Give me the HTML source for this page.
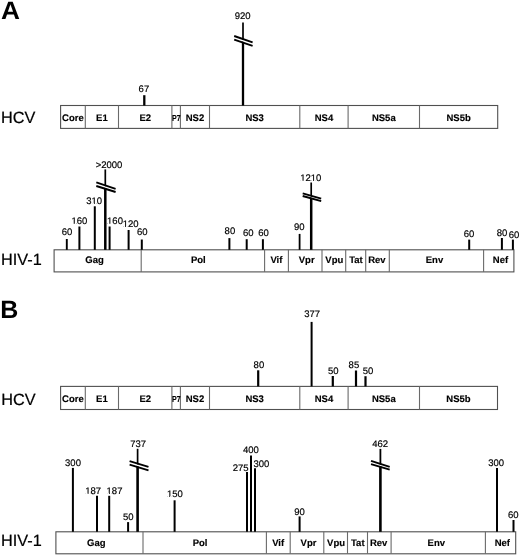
<!DOCTYPE html>
<html><head><meta charset="utf-8"><style>
html,body{margin:0;padding:0;background:#fff;}
body{width:520px;height:556px;overflow:hidden;}
svg{display:block;will-change:transform;}
text{font-family:"Liberation Sans",sans-serif;fill:#000;text-rendering:geometricPrecision;}
.n{font-size:9.5px;stroke:#000;stroke-width:0.18px;}
.b{font-size:9.5px;font-weight:bold;stroke:#000;stroke-width:0.15px;}
.h{font-size:16.3px;stroke:#000;stroke-width:0.2px;}
.L{font-size:24px;font-weight:bold;}
</style></head><body>
<svg width="520" height="556" viewBox="0 0 520 556">
<rect width="520" height="556" fill="#fff"/>
<text transform="translate(1.0,18.9) scale(1.05,1.01)" class="L" style="font-size:25px">A</text>
<text transform="translate(1.0,123.3) scale(1,1.0)" class="h">HCV</text>
<rect x="60.6" y="105.5" width="437.10" height="22.90" fill="none" stroke="#505050" stroke-width="1.1"/>
<line x1="85.3" y1="105.5" x2="85.3" y2="128.4" stroke="#6a6a6a" stroke-width="1.1"/>
<line x1="118.5" y1="105.5" x2="118.5" y2="128.4" stroke="#6a6a6a" stroke-width="1.1"/>
<line x1="171.9" y1="105.5" x2="171.9" y2="128.4" stroke="#6a6a6a" stroke-width="1.1"/>
<line x1="180.4" y1="105.5" x2="180.4" y2="128.4" stroke="#6a6a6a" stroke-width="1.1"/>
<line x1="209.5" y1="105.5" x2="209.5" y2="128.4" stroke="#6a6a6a" stroke-width="1.1"/>
<line x1="299.8" y1="105.5" x2="299.8" y2="128.4" stroke="#6a6a6a" stroke-width="1.1"/>
<line x1="348.1" y1="105.5" x2="348.1" y2="128.4" stroke="#6a6a6a" stroke-width="1.1"/>
<line x1="419.5" y1="105.5" x2="419.5" y2="128.4" stroke="#6a6a6a" stroke-width="1.1"/>
<text x="72.95" y="120.60" class="b" text-anchor="middle">Core</text>
<text x="101.90" y="120.60" class="b" text-anchor="middle">E1</text>
<text x="145.20" y="120.60" class="b" text-anchor="middle">E2</text>
<clipPath id="c1"><rect x="171.3" y="105.5" width="9.5" height="22.900000000000006"/></clipPath>
<text x="172.10" y="120.60" class="b" style="font-size:8.6px" textLength="8.6" lengthAdjust="spacingAndGlyphs" clip-path="url(#c1)">P7</text>
<text x="194.95" y="120.60" class="b" text-anchor="middle">NS2</text>
<text x="254.65" y="120.60" class="b" text-anchor="middle">NS3</text>
<text x="323.95" y="120.60" class="b" text-anchor="middle">NS4</text>
<text x="383.80" y="120.60" class="b" text-anchor="middle">NS5a</text>
<text x="458.60" y="120.60" class="b" text-anchor="middle">NS5b</text>
<line x1="144.3" y1="95.2" x2="144.3" y2="105.5" stroke="#000" stroke-width="2.3"/>
<text transform="translate(143.9,92.00)" class="n" text-anchor="middle">67</text>
<line x1="243" y1="22.5" x2="243" y2="40.8" stroke="#000" stroke-width="1.7"/>
<line x1="243" y1="40.8" x2="243" y2="105.5" stroke="#000" stroke-width="2.3"/>
<text transform="translate(242.7,19.00)" class="n" text-anchor="middle">920</text>
<polygon points="234.2,36.8 252.6,43.099999999999994 252.6,45.0 234.2,38.800000000000004" fill="#fff"/>
<line x1="234.2" y1="36" x2="252.6" y2="42.3" stroke="#000" stroke-width="1.9"/>
<line x1="234.2" y1="39.6" x2="252.6" y2="45.8" stroke="#000" stroke-width="1.9"/>
<text transform="translate(1.0,264.8) scale(1,1.0)" class="h">HIV-1</text>
<rect x="54.1" y="249.8" width="459.80" height="22.10" fill="none" stroke="#505050" stroke-width="1.1"/>
<line x1="141.2" y1="249.8" x2="141.2" y2="271.9" stroke="#6a6a6a" stroke-width="1.1"/>
<line x1="264.6" y1="249.8" x2="264.6" y2="271.9" stroke="#6a6a6a" stroke-width="1.1"/>
<line x1="288.4" y1="249.8" x2="288.4" y2="271.9" stroke="#6a6a6a" stroke-width="1.1"/>
<line x1="322.0" y1="249.8" x2="322.0" y2="271.9" stroke="#6a6a6a" stroke-width="1.1"/>
<line x1="345.7" y1="249.8" x2="345.7" y2="271.9" stroke="#6a6a6a" stroke-width="1.1"/>
<line x1="365.7" y1="249.8" x2="365.7" y2="271.9" stroke="#6a6a6a" stroke-width="1.1"/>
<line x1="389.3" y1="249.8" x2="389.3" y2="271.9" stroke="#6a6a6a" stroke-width="1.1"/>
<line x1="483.6" y1="249.8" x2="483.6" y2="271.9" stroke="#6a6a6a" stroke-width="1.1"/>
<text x="94.50" y="263.40" class="b" text-anchor="middle">Gag</text>
<text x="198.30" y="263.40" class="b" text-anchor="middle">Pol</text>
<text x="276.40" y="263.40" class="b" text-anchor="middle">Vif</text>
<text x="306.70" y="263.40" class="b" text-anchor="middle">Vpr</text>
<text x="334.30" y="263.40" class="b" text-anchor="middle">Vpu</text>
<text x="356.00" y="263.40" class="b" text-anchor="middle">Tat</text>
<text x="376.90" y="263.40" class="b" text-anchor="middle">Rev</text>
<text x="434.50" y="263.40" class="b" text-anchor="middle">Env</text>
<text x="500.50" y="263.40" class="b" text-anchor="middle">Nef</text>
<line x1="66.8" y1="239" x2="66.8" y2="249.8" stroke="#000" stroke-width="1.9"/>
<text transform="translate(67,235.00)" class="n" text-anchor="middle">60</text>
<line x1="79.4" y1="226.5" x2="79.4" y2="249.8" stroke="#000" stroke-width="2.0"/>
<text transform="translate(79.3,224.00)" class="n" text-anchor="middle">160</text>
<rect x="71.93" y="222.94" width="1.80" height="1.16" fill="#fff"/>
<rect x="74.63" y="222.94" width="1.75" height="1.16" fill="#fff"/>
<line x1="94.8" y1="206.3" x2="94.8" y2="249.8" stroke="#000" stroke-width="2.0"/>
<text transform="translate(94.2,204.00)" class="n" text-anchor="middle">310</text>
<rect x="92.11" y="202.94" width="1.80" height="1.16" fill="#fff"/>
<rect x="94.81" y="202.94" width="1.75" height="1.16" fill="#fff"/>
<line x1="105.3" y1="169.4" x2="105.3" y2="187.1" stroke="#000" stroke-width="1.7"/>
<line x1="105.3" y1="187.1" x2="105.3" y2="249.8" stroke="#000" stroke-width="2.5"/>
<text transform="translate(109.0,168.00)" class="n" text-anchor="middle">&gt;2000</text>
<line x1="109.6" y1="226.5" x2="109.6" y2="249.8" stroke="#000" stroke-width="2.0"/>
<text transform="translate(115.0,224.00)" class="n" text-anchor="middle">160</text>
<rect x="107.63" y="222.94" width="1.80" height="1.16" fill="#fff"/>
<rect x="110.33" y="222.94" width="1.75" height="1.16" fill="#fff"/>
<line x1="128.6" y1="230.0" x2="128.6" y2="249.8" stroke="#000" stroke-width="2.0"/>
<text transform="translate(130.7,227.00)" class="n" text-anchor="middle">120</text>
<rect x="123.33" y="225.94" width="1.80" height="1.16" fill="#fff"/>
<rect x="126.03" y="225.94" width="1.75" height="1.16" fill="#fff"/>
<line x1="141.8" y1="239.5" x2="141.8" y2="249.8" stroke="#000" stroke-width="2.0"/>
<text transform="translate(142.2,235.00)" class="n" text-anchor="middle">60</text>
<line x1="229.4" y1="238.1" x2="229.4" y2="249.8" stroke="#000" stroke-width="2.0"/>
<text transform="translate(229.9,234.00)" class="n" text-anchor="middle">80</text>
<line x1="246.7" y1="239.2" x2="246.7" y2="249.8" stroke="#000" stroke-width="2.0"/>
<text transform="translate(248.3,236.00)" class="n" text-anchor="middle">60</text>
<line x1="262.9" y1="239.2" x2="262.9" y2="249.8" stroke="#000" stroke-width="2.0"/>
<text transform="translate(263.5,236.00)" class="n" text-anchor="middle">60</text>
<line x1="299.6" y1="233.9" x2="299.6" y2="249.8" stroke="#000" stroke-width="1.8"/>
<text transform="translate(299.2,230.00)" class="n" text-anchor="middle">90</text>
<line x1="311.2" y1="182.5" x2="311.2" y2="197.0" stroke="#000" stroke-width="1.7"/>
<line x1="311.2" y1="197.0" x2="311.2" y2="249.8" stroke="#000" stroke-width="2.5"/>
<text transform="translate(310.8,181.00)" class="n" text-anchor="middle">1210</text>
<rect x="300.79" y="179.94" width="1.80" height="1.16" fill="#fff"/>
<rect x="303.49" y="179.94" width="1.75" height="1.16" fill="#fff"/>
<rect x="311.36" y="179.94" width="1.80" height="1.16" fill="#fff"/>
<rect x="314.06" y="179.94" width="1.75" height="1.16" fill="#fff"/>
<line x1="469.2" y1="239.6" x2="469.2" y2="249.8" stroke="#000" stroke-width="2.0"/>
<text transform="translate(469.0,237.00)" class="n" text-anchor="middle">60</text>
<line x1="501.9" y1="238.0" x2="501.9" y2="249.8" stroke="#000" stroke-width="2.0"/>
<text transform="translate(502.1,236.00)" class="n" text-anchor="middle">80</text>
<line x1="512.9" y1="239.6" x2="512.9" y2="249.8" stroke="#000" stroke-width="2.0"/>
<text transform="translate(514.0,238.00)" class="n" text-anchor="middle">60</text>
<polygon points="96.3,183.20000000000002 115.6,189.60000000000002 115.6,191.2 96.3,185.2" fill="#fff"/>
<line x1="96.3" y1="182.4" x2="115.6" y2="188.8" stroke="#000" stroke-width="1.9"/>
<line x1="96.3" y1="186" x2="115.6" y2="192" stroke="#000" stroke-width="1.9"/>
<polygon points="302.7,194.10000000000002 321.2,199.4 321.2,200.39999999999998 302.7,195.2" fill="#fff"/>
<line x1="302.7" y1="193.3" x2="321.2" y2="198.6" stroke="#000" stroke-width="1.9"/>
<line x1="302.7" y1="196" x2="321.2" y2="201.2" stroke="#000" stroke-width="1.9"/>
<text x="0.2" y="318.2" class="L" style="font-size:25px">B</text>
<text transform="translate(1.2,404.6) scale(1,1.0)" class="h">HCV</text>
<rect x="60.6" y="386.4" width="436.90" height="23.10" fill="none" stroke="#505050" stroke-width="1.1"/>
<line x1="85.3" y1="386.4" x2="85.3" y2="409.5" stroke="#6a6a6a" stroke-width="1.1"/>
<line x1="118.5" y1="386.4" x2="118.5" y2="409.5" stroke="#6a6a6a" stroke-width="1.1"/>
<line x1="171.9" y1="386.4" x2="171.9" y2="409.5" stroke="#6a6a6a" stroke-width="1.1"/>
<line x1="180.4" y1="386.4" x2="180.4" y2="409.5" stroke="#6a6a6a" stroke-width="1.1"/>
<line x1="209.5" y1="386.4" x2="209.5" y2="409.5" stroke="#6a6a6a" stroke-width="1.1"/>
<line x1="299.8" y1="386.4" x2="299.8" y2="409.5" stroke="#6a6a6a" stroke-width="1.1"/>
<line x1="348.1" y1="386.4" x2="348.1" y2="409.5" stroke="#6a6a6a" stroke-width="1.1"/>
<line x1="419.5" y1="386.4" x2="419.5" y2="409.5" stroke="#6a6a6a" stroke-width="1.1"/>
<text x="72.95" y="401.90" class="b" text-anchor="middle">Core</text>
<text x="101.90" y="401.90" class="b" text-anchor="middle">E1</text>
<text x="145.20" y="401.90" class="b" text-anchor="middle">E2</text>
<clipPath id="c2"><rect x="171.3" y="386.4" width="9.5" height="23.100000000000023"/></clipPath>
<text x="172.10" y="401.90" class="b" style="font-size:8.6px" textLength="8.6" lengthAdjust="spacingAndGlyphs" clip-path="url(#c2)">P7</text>
<text x="194.95" y="401.90" class="b" text-anchor="middle">NS2</text>
<text x="254.65" y="401.90" class="b" text-anchor="middle">NS3</text>
<text x="323.95" y="401.90" class="b" text-anchor="middle">NS4</text>
<text x="383.80" y="401.90" class="b" text-anchor="middle">NS5a</text>
<text x="458.50" y="401.90" class="b" text-anchor="middle">NS5b</text>
<line x1="258.2" y1="370.3" x2="258.2" y2="386.4" stroke="#000" stroke-width="2.2"/>
<text transform="translate(258.9,368.00)" class="n" text-anchor="middle">80</text>
<line x1="311.6" y1="321.9" x2="311.6" y2="386.4" stroke="#000" stroke-width="2.0"/>
<text transform="translate(312.1,317.00)" class="n" text-anchor="middle">377</text>
<line x1="332.8" y1="376.0" x2="332.8" y2="386.4" stroke="#000" stroke-width="2.2"/>
<text transform="translate(333.3,374.00)" class="n" text-anchor="middle">50</text>
<line x1="356.0" y1="370.5" x2="356.0" y2="386.4" stroke="#000" stroke-width="2.2"/>
<text transform="translate(353.9,368.00)" class="n" text-anchor="middle">85</text>
<line x1="365.5" y1="376.2" x2="365.5" y2="386.4" stroke="#000" stroke-width="2.2"/>
<text transform="translate(368.0,374.00)" class="n" text-anchor="middle">50</text>
<text transform="translate(1.0,545.9) scale(1,1.0)" class="h">HIV-1</text>
<rect x="55.9" y="531.8" width="459.80" height="22.00" fill="none" stroke="#505050" stroke-width="1.1"/>
<line x1="143.0" y1="531.8" x2="143.0" y2="553.8" stroke="#6a6a6a" stroke-width="1.1"/>
<line x1="266.40000000000003" y1="531.8" x2="266.40000000000003" y2="553.8" stroke="#6a6a6a" stroke-width="1.1"/>
<line x1="290.2" y1="531.8" x2="290.2" y2="553.8" stroke="#6a6a6a" stroke-width="1.1"/>
<line x1="323.8" y1="531.8" x2="323.8" y2="553.8" stroke="#6a6a6a" stroke-width="1.1"/>
<line x1="347.5" y1="531.8" x2="347.5" y2="553.8" stroke="#6a6a6a" stroke-width="1.1"/>
<line x1="367.5" y1="531.8" x2="367.5" y2="553.8" stroke="#6a6a6a" stroke-width="1.1"/>
<line x1="391.1" y1="531.8" x2="391.1" y2="553.8" stroke="#6a6a6a" stroke-width="1.1"/>
<line x1="485.40000000000003" y1="531.8" x2="485.40000000000003" y2="553.8" stroke="#6a6a6a" stroke-width="1.1"/>
<text x="96.30" y="545.70" class="b" text-anchor="middle">Gag</text>
<text x="200.10" y="545.70" class="b" text-anchor="middle">Pol</text>
<text x="278.20" y="545.70" class="b" text-anchor="middle">Vif</text>
<text x="308.50" y="545.70" class="b" text-anchor="middle">Vpr</text>
<text x="336.10" y="545.70" class="b" text-anchor="middle">Vpu</text>
<text x="357.80" y="545.70" class="b" text-anchor="middle">Tat</text>
<text x="378.70" y="545.70" class="b" text-anchor="middle">Rev</text>
<text x="436.30" y="545.70" class="b" text-anchor="middle">Env</text>
<text x="502.30" y="545.70" class="b" text-anchor="middle">Nef</text>
<line x1="72.9" y1="467.9" x2="72.9" y2="531.8" stroke="#000" stroke-width="2.0"/>
<text transform="translate(73.0,466.00)" class="n" text-anchor="middle">300</text>
<line x1="97.0" y1="495.8" x2="97.0" y2="531.8" stroke="#000" stroke-width="2.0"/>
<text transform="translate(93.2,494.00)" class="n" text-anchor="middle">187</text>
<rect x="85.83" y="492.94" width="1.80" height="1.16" fill="#fff"/>
<rect x="88.53" y="492.94" width="1.75" height="1.16" fill="#fff"/>
<line x1="109.2" y1="495.8" x2="109.2" y2="531.8" stroke="#000" stroke-width="2.0"/>
<text transform="translate(114.5,494.00)" class="n" text-anchor="middle">187</text>
<rect x="107.13" y="492.94" width="1.80" height="1.16" fill="#fff"/>
<rect x="109.83" y="492.94" width="1.75" height="1.16" fill="#fff"/>
<line x1="128.1" y1="522.1" x2="128.1" y2="531.8" stroke="#000" stroke-width="2.0"/>
<text transform="translate(128.2,520.00)" class="n" text-anchor="middle">50</text>
<line x1="137.6" y1="448.8" x2="137.6" y2="465.3" stroke="#000" stroke-width="1.7"/>
<line x1="137.6" y1="465.3" x2="137.6" y2="531.8" stroke="#000" stroke-width="2.6"/>
<text transform="translate(138.1,446.50)" class="n" text-anchor="middle">737</text>
<line x1="174.6" y1="500.3" x2="174.6" y2="531.8" stroke="#000" stroke-width="2.0"/>
<text transform="translate(174.8,497.00)" class="n" text-anchor="middle">150</text>
<rect x="167.43" y="495.94" width="1.80" height="1.16" fill="#fff"/>
<rect x="170.13" y="495.94" width="1.75" height="1.16" fill="#fff"/>
<line x1="247.0" y1="472.0" x2="247.0" y2="531.8" stroke="#000" stroke-width="2.0"/>
<text transform="translate(240.7,471.00)" class="n" text-anchor="middle">275</text>
<line x1="251.0" y1="455.4" x2="251.0" y2="531.8" stroke="#000" stroke-width="2.0"/>
<text transform="translate(250.8,453.00)" class="n" text-anchor="middle">400</text>
<line x1="255.0" y1="468.2" x2="255.0" y2="531.8" stroke="#000" stroke-width="2.0"/>
<text transform="translate(261.3,467.00)" class="n" text-anchor="middle">300</text>
<line x1="299.6" y1="516.4" x2="299.6" y2="531.8" stroke="#000" stroke-width="2.0"/>
<text transform="translate(299.5,515.00)" class="n" text-anchor="middle">90</text>
<line x1="380.4" y1="448.9" x2="380.4" y2="465.4" stroke="#000" stroke-width="1.8"/>
<line x1="380.4" y1="465.4" x2="380.4" y2="531.8" stroke="#000" stroke-width="2.6"/>
<text transform="translate(380.1,447.00)" class="n" text-anchor="middle">462</text>
<line x1="497.0" y1="468.0" x2="497.0" y2="531.8" stroke="#000" stroke-width="2.0"/>
<text transform="translate(496.2,466.00)" class="n" text-anchor="middle">300</text>
<line x1="513.5" y1="520.0" x2="513.5" y2="531.8" stroke="#000" stroke-width="2.0"/>
<text transform="translate(513.3,518.00)" class="n" text-anchor="middle">60</text>
<polygon points="129.6,462.0 148.5,467.7 148.5,469.59999999999997 129.6,463.8" fill="#fff"/>
<line x1="129.6" y1="461.2" x2="148.5" y2="466.9" stroke="#000" stroke-width="1.9"/>
<line x1="129.6" y1="464.6" x2="148.5" y2="470.4" stroke="#000" stroke-width="1.9"/>
<polygon points="371,461.6 389.7,467.7 389.7,468.8 371,463.4" fill="#fff"/>
<line x1="371" y1="460.8" x2="389.7" y2="466.9" stroke="#000" stroke-width="1.9"/>
<line x1="371" y1="464.2" x2="389.7" y2="469.6" stroke="#000" stroke-width="1.9"/>
</svg>
</body></html>
